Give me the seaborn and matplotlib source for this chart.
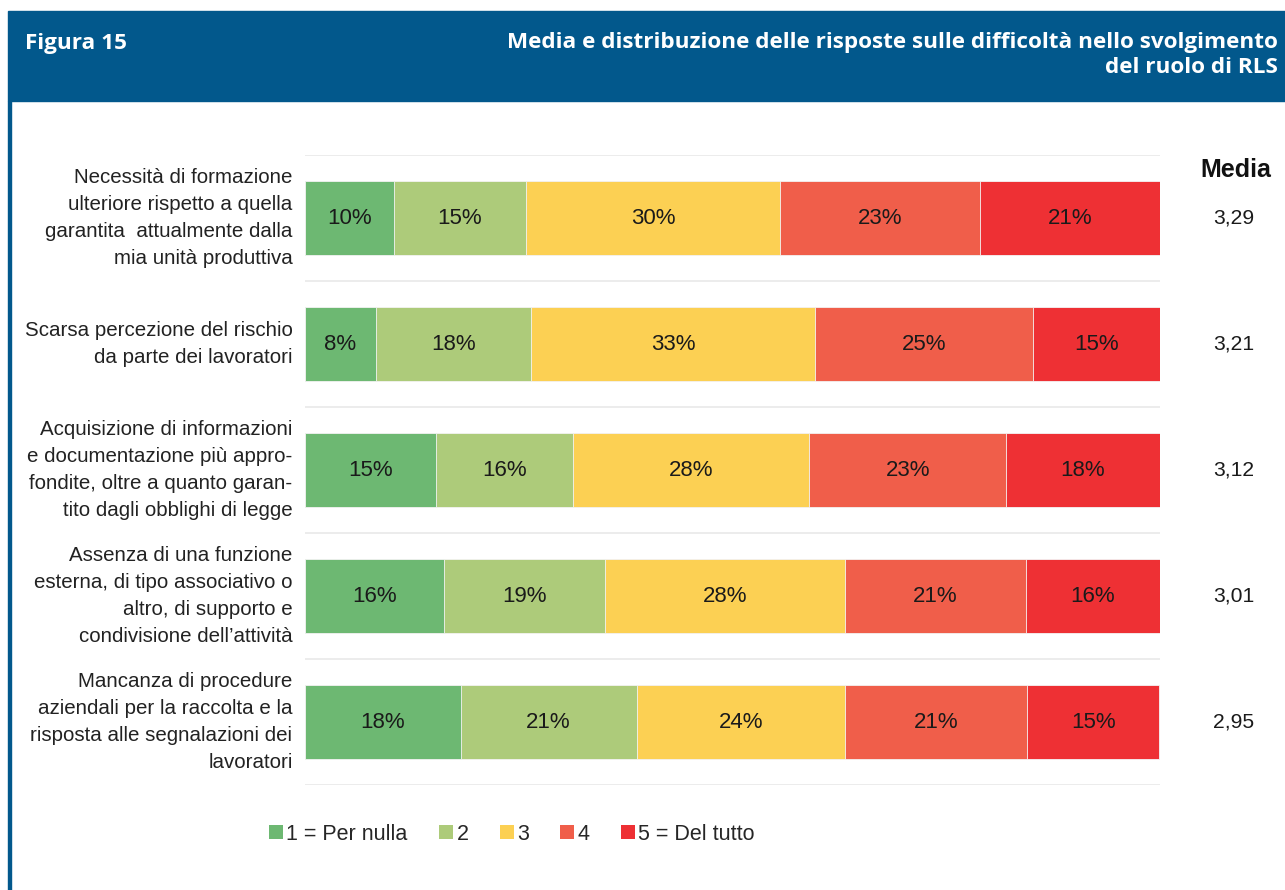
import matplotlib
matplotlib.use("Agg")
import matplotlib.pyplot as plt
from matplotlib.patches import Rectangle, Patch
import seaborn as sns
import pandas as pd
import numpy as np

# ---- data ----
categories = [
    "Necessità di formazione\nulteriore rispetto a quella\ngarantita  attualmente dalla\nmia unità produttiva",
    "Scarsa percezione del rischio\nda parte dei lavoratori",
    "Acquisizione di informazioni\ne documentazione più appro-\nfondite, oltre a quanto garan-\ntito dagli obblighi di legge",
    "Assenza di una funzione\nesterna, di tipo associativo o\naltro, di supporto e\ncondivisione dell\u2019attività",
    "Mancanza di procedure\naziendali per la raccolta e la\nrisposta alle segnalazioni dei\nlavoratori",
]
levels = ["1 = Per nulla", "2", "3", "4", "5 = Del tutto"]
score1 = [10.4, 8.3, 15.3, 16.2, 18.2]
score2 = [15.4, 18.1, 16.0, 18.9, 20.6]
score3 = [29.8, 33.3, 27.7, 28.0, 24.4]
score4 = [23.3, 25.4, 23.0, 21.2, 21.3]
score5 = [21.1, 14.9, 18.0, 15.7, 15.4]
medie = ["3,29", "3,21", "3,12", "3,01", "2,95"]
colors = ["#6DB872", "#ADCB7A", "#FCD053", "#F05E4A", "#EE3034"]

sns.set_theme(style="white")
plt.rcParams["font.family"] = ["Liberation Sans", "DejaVu Sans"]

fig = plt.figure(figsize=(12.85, 8.9), dpi=100)
W, H = 1285, 890
ax = fig.add_axes([305 / W, (H - 785) / H, 855 / W, 630 / H])

series = [score1, score2, score3, score4, score5]
cum = np.zeros(len(categories))
cums = []
for s in series:
    cum = cum + np.array(s)
    cums.append(cum.copy())

# draw cumulative totals from largest to smallest so they stack visually
for i in reversed(range(len(series))):
    d = pd.DataFrame({"cat": categories, "val": cums[i]})
    sns.barplot(data=d, x="val", y="cat", orient="h", color=colors[i],
                saturation=1, width=0.587, ax=ax, edgecolor="#f4f4f4",
                linewidth=0.6)

# labels
for i, s in enumerate(series):
    start = cums[i] - np.array(s)
    for j, v in enumerate(s):
        ax.text(start[j] + v / 2, j, f"{v:.0f}%", ha="center", va="center",
                fontsize=16, color="#1a1a1a")

ax.set_xlim(0, 100)
ax.set_ylim(len(categories) - 0.5, -0.5)
for yb in np.arange(-0.5, len(categories), 1.0):
    ax.axhline(yb, color="#e9e9e9", lw=1.2, zorder=0)
for sp in ax.spines.values():
    sp.set_visible(False)
ax.set_xticks([])
ax.set_xlabel("")
ax.set_ylabel("")
ax.tick_params(axis="y", length=0, pad=9)
for lab in ax.get_yticklabels():
    lab.set_fontsize(14.8)
    lab.set_color("#222222")
    lab.set_multialignment("right")
    lab.set_linespacing(1.53)
    lab.set_verticalalignment("center")

# Media column
mx = (1236 - 305) / 855 * 100
ax.text(mx, -0.5 + (170 - 155) / 126, "Media", ha="center", va="center",
        fontsize=18, fontweight="bold", color="#111111", clip_on=False)
for j, m in enumerate(medie):
    ax.text(mx - 0.25, j, m, ha="center", va="center", fontsize=15.2,
            color="#1a1a1a", clip_on=False)

# legend
handles = [Patch(facecolor=c, edgecolor="none", label=l) for c, l in zip(colors, levels)]
fig.legend(handles=handles, loc="center", bbox_to_anchor=(512 / W, 1 - 834 / H),
           ncol=5, frameon=False, fontsize=15.5, handlelength=0.65, handleheight=0.65,
           handletextpad=0.15, columnspacing=1.46)

# header
blue = "#02588C"
fig.patches.append(Rectangle((8 / W, (H - 101) / H), 1 - 8 / W, 90 / H,
                             transform=fig.transFigure, color=blue, zorder=0))
fig.patches.append(Rectangle((8 / W, 0), 3 / W, (H - 101) / H,
                             transform=fig.transFigure, color=blue, zorder=0))
hfont = ["Open Sans", "DejaVu Sans"]
fig.text(25 / W, 1 - 43 / H, "Figura 15", ha="left", va="center", color="white",
         fontsize=16.2, fontweight="bold", family=hfont)
fig.text(1278 / W, 1 - 55 / H,
         "Media e distribuzione delle risposte sulle difficoltà nello svolgimento\ndel ruolo di RLS",
         ha="right", va="center", color="white", fontsize=16.2, fontweight="bold",
         family=hfont, multialignment="right", linespacing=1.3)

fig.savefig("out.png", dpi=100)
